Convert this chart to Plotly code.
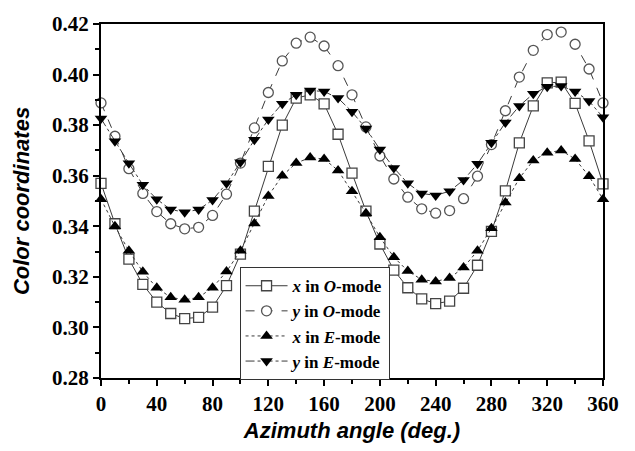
import plotly.graph_objects as go

# Azimuth angle (deg.)
angle = list(range(0, 361, 10))

# Color coordinates, O-mode
x_o = [0.357, 0.341, 0.327, 0.317, 0.310, 0.3055, 0.3035, 0.304, 0.308, 0.3165,
       0.329, 0.346, 0.3637, 0.380, 0.3907, 0.392, 0.3884, 0.3764, 0.361, 0.346,
       0.333, 0.3227, 0.3157, 0.3113, 0.3094, 0.3104, 0.3155, 0.3246, 0.338, 0.354,
       0.373, 0.3876, 0.3967, 0.397, 0.3886, 0.3738, 0.3568]
y_o = [0.3888, 0.3756, 0.3628, 0.353, 0.3458, 0.341, 0.339, 0.3396, 0.3443, 0.3527,
       0.365, 0.3789, 0.3929, 0.4054, 0.4124, 0.4148, 0.4113, 0.4035, 0.392, 0.3793,
       0.3678, 0.3587, 0.3515, 0.3469, 0.3452, 0.3462, 0.3509, 0.3598, 0.3723, 0.3857,
       0.399, 0.4096, 0.4158, 0.4168, 0.412, 0.4022, 0.3888]

# Color coordinates, E-mode
x_e = [0.3507, 0.340, 0.3303, 0.322, 0.3157, 0.3119, 0.3109, 0.3119, 0.3157, 0.3221,
       0.3303, 0.3411, 0.352, 0.360, 0.365, 0.3672, 0.3666, 0.3621, 0.3539, 0.3452,
       0.3357, 0.3278, 0.3223, 0.3189, 0.3182, 0.3195, 0.3237, 0.3303, 0.3392, 0.3494,
       0.359, 0.366, 0.3691, 0.370, 0.3666, 0.3598, 0.3507]
y_e = [0.3826, 0.3736, 0.3649, 0.3564, 0.3507, 0.3466, 0.3456, 0.3466, 0.3504, 0.357,
       0.3653, 0.3742, 0.3822, 0.3885, 0.392, 0.3937, 0.3933, 0.3907, 0.3853, 0.3787,
       0.3704, 0.3631, 0.357, 0.353, 0.3522, 0.3539, 0.3583, 0.3647, 0.373, 0.381,
       0.3876, 0.3924, 0.3952, 0.3955, 0.3933, 0.3895, 0.3831]

x_ticks = list(range(0, 361, 40))
y_ticks = [0.28, 0.30, 0.32, 0.34, 0.36, 0.38, 0.40, 0.42]

serif = "Liberation Serif, Times New Roman, serif"
sans = "Liberation Sans, Arial, sans-serif"

# (values, legend text, dash, symbol, fill, outline, size)
series = [
    (x_o, "<b><i>x</i> in <i>O</i>-mode</b>", "solid", "square", "white", "#444444", 10),
    (y_o, "<b><i>y</i> in <i>O</i>-mode</b>", "dash", "circle", "white", "#555555", 10),
    (x_e, "<b><i>x</i> in <i>E</i>-mode</b>", "dot", "triangle-up", "black", "black", 11),
    (y_e, "<b><i>y</i> in <i>E</i>-mode</b>", "dashdot", "triangle-down", "black", "black", 11),
]

fig = go.Figure()
for vals, name, dash, symbol, fill, outline, size in series:
    fig.add_trace(go.Scatter(
        x=angle, y=vals, name=name, mode="lines+markers",
        line=dict(color="#3a3a3a", width=1, dash=dash),
        marker=dict(symbol=symbol, size=size, color=fill,
                    line=dict(color=outline, width=1.3 if fill == "white" else 0)),
        cliponaxis=False,
    ))

fig.update_layout(
    width=635, height=451,
    margin=dict(l=101, r=32, t=15, b=69),
    paper_bgcolor="white", plot_bgcolor="white",
    showlegend=True,
    legend=dict(
        x=0.276, y=0.313, xanchor="left", yanchor="top",
        bgcolor="white", bordercolor="#333333", borderwidth=1,
        font=dict(family=serif, size=17, color="black"),
        tracegroupgap=0, itemwidth=42,
    ),
)

fig.update_xaxes(
    range=[0, 360], tickvals=x_ticks, ticktext=[str(v) for v in x_ticks],
    showgrid=False, zeroline=False,
    showline=True, linecolor="black", linewidth=2, mirror=True,
    ticks="outside", ticklen=6, tickwidth=2, tickcolor="black",
    minor=dict(tickvals=list(range(20, 361, 40)), ticks="outside", ticklen=4,
               tickwidth=1.5, tickcolor="black", showgrid=False),
    tickfont=dict(family=serif, size=21, color="black", weight="bold"),
    title=dict(text="<b><i>Azimuth angle (deg.)</i></b>",
               font=dict(family=sans, size=22, color="black"), standoff=7),
)

fig.update_yaxes(
    range=[0.28, 0.42], tickvals=y_ticks, ticktext=[f"{v:.2f}" for v in y_ticks],
    showgrid=False, zeroline=False,
    showline=True, linecolor="black", linewidth=2, mirror=True,
    ticks="outside", ticklen=6, tickwidth=2, tickcolor="black",
    minor=dict(tickvals=[0.29, 0.31, 0.33, 0.35, 0.37, 0.39, 0.41], ticks="outside",
               ticklen=4, tickwidth=1.5, tickcolor="black", showgrid=False),
    tickfont=dict(family=serif, size=21, color="black", weight="bold"),
    title=dict(text="<b><i>Color coordinates</i></b>",
               font=dict(family=sans, size=22, color="black"), standoff=16),
)

fig.write_html("out.html")
